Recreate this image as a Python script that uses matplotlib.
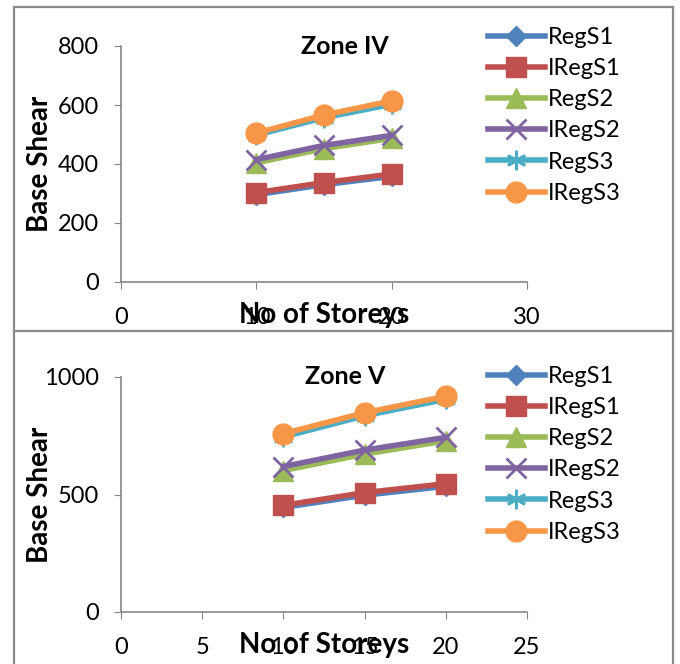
import matplotlib.pyplot as plt
from matplotlib.lines import Line2D

plt.rcParams['font.family'] = ['Lato', 'DejaVu Sans']

storeys = [10, 15, 20]
names = ['RegS1', 'IRegS1', 'RegS2', 'IRegS2', 'RegS3', 'IRegS3']

zone4 = {
    'RegS1': [296, 330, 358],
    'IRegS1': [303, 337, 366],
    'RegS2': [404, 452, 487],
    'IRegS2': [415, 463, 497],
    'RegS3': [498, 557, 602],
    'IRegS3': [505, 566, 614],
}
zone5 = {
    'RegS1': [445, 497, 535],
    'IRegS1': [454, 508, 546],
    'RegS2': [602, 672, 728],
    'IRegS2': [619, 689, 743],
    'RegS3': [745, 835, 905],
    'IRegS3': [759, 848, 918],
}

#styles
colors = ['#4F81BD', '#C0504D', '#9BBB59', '#8064A2', '#4BACC6', '#F79646']
markers = ['D', 's', '^', 'x', (6, 2, 0), 'o']
msizes = [10, 14, 14, 14, 14, 15]
grey = '#868686'

W, H = 680, 664
fig = plt.figure(figsize=(W / 100, H / 100), dpi=100)

def fx(px):
    return px / W

def fy(py):
    return 1 - py / H

# table borders
for xs, ys in [([14, 14], [7, 664]), ([673, 673], [7, 664]),
               ([14, 673], [7, 7]), ([14, 673], [331, 331])]:
    fig.add_artist(Line2D([fx(x) for x in xs], [fy(y) for y in ys],
                          color='#8a8a8a', lw=1.6))

def panel(rect, data, title, xmax, xstep, ymax, ystep, leg_y):
    ax = fig.add_axes(rect)
    for i, n in enumerate(names):
        ax.plot(storeys, data[n], color=colors[i], marker=markers[i],
                markersize=msizes[i], lw=4, mew=2 if markers[i] in ['x', (6, 2, 0)] else 1,
                label=n, clip_on=False)
    ax.set_xlim(0, xmax)
    ax.set_ylim(0, ymax)
    ax.set_xticks(range(0, xmax + 1, xstep))
    ax.set_yticks(range(0, ymax + 1, ystep))
    for s in ['top', 'right']:
        ax.spines[s].set_visible(False)
    for s in ['left', 'bottom']:
        ax.spines[s].set_color(grey)
        ax.spines[s].set_linewidth(1.2)
    ax.tick_params(direction='out', length=5, color=grey, labelsize=17)
    ax.tick_params(axis='y', pad=11)
    ax.tick_params(axis='x', pad=13)
    ax.set_xlabel('No of Storeys', fontsize=20, fontweight='bold')
    ax.xaxis.set_label_coords(0.5, -0.14)
    ax.xaxis.label.set_va('center')
    ax.set_ylabel('Base Shear', fontsize=20, fontweight='bold')
    ax.yaxis.set_label_coords(-0.2, 0.5)
    ax.yaxis.label.set_va('center')
    ax.text(0.552, 1.0, title, transform=ax.transAxes, ha='center', va='center',
            fontsize=18, fontweight='bold')
    ax.legend(loc='upper left', bbox_to_anchor=(fx(488), fy(leg_y)),
              bbox_transform=fig.transFigure, frameon=False, fontsize=17,
              handlelength=2.4, handletextpad=0.15, labelspacing=0.43,
              borderpad=0, borderaxespad=0)
    return ax

panel([fx(121), fy(282), fx(527) - fx(121), fy(46) - fy(282)],
      zone4, 'Zone IV', 30, 10, 800, 200, 27)
panel([fx(121), fy(612), fx(527) - fx(121), fy(377) - fy(612)],
      zone5, 'Zone V', 25, 5, 1000, 500, 366)

fig.savefig('out.png', dpi=100)
